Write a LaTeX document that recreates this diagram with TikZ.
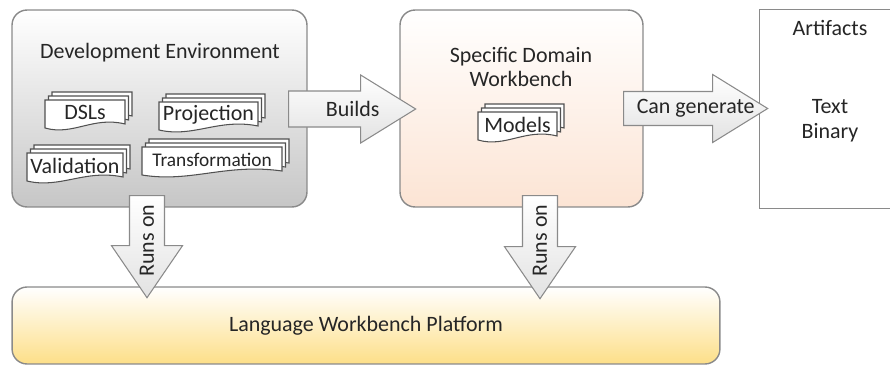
\documentclass[tikz,border=0pt]{standalone}
\usepackage{fontspec}
\setmainfont{Carlito}
\usetikzlibrary{arrows.meta,positioning,calc}

\definecolor{framegray}{HTML}{8A8A8A}
\definecolor{inkgray}{HTML}{262626}
\definecolor{devbottom}{HTML}{C6C6C6}
\definecolor{dombottom}{HTML}{FCE4D4}
\definecolor{platbottom}{HTML}{FDDF88}
\definecolor{arrowfill}{HTML}{E2E2E2}

% stacked document: name, left x, top y, width, text
\newcommand{\docstack}[5]{%
  \foreach \k in {2,1,0}{
    \begin{scope}[shift={(#2+3.5*\k,#3-4*\k)}]
      \draw[docsheet] (0,0) -- (#4,0) -- (#4,24)
        .. controls ({0.6*#4},16) and ({0.35*#4},36) .. (0,28) -- cycle;
    \end{scope}
  }
  \node[doctext] (#1) at ({#2+#4/2},{#3+12.5}) {#5};
}

% block arrow: length, shaft half width, head half width, head length
\tikzset{
  pics/blockarrow/.style n args={4}{code={
    \path[blockarrowpath] (0,-#2) -- ({#1-#4},-#2) -- ({#1-#4},-#3) -- (#1,0)
      -- ({#1-#4},#3) -- ({#1-#4},#2) -- (0,#2) -- cycle;
  }}
}

\begin{document}
\begin{tikzpicture}[
  x=0.02cm,y=-0.02cm,
  font=\fontsize{12.5}{14.2}\selectfont,text=inkgray,
  panel/.style={draw=framegray,line width=0.8pt,rounded corners=0.3cm,align=center},
  docsheet/.style={draw=inkgray!80,line width=0.6pt,fill=white},
  doctext/.style={inner sep=0pt},
  blockarrowpath/.style={draw=framegray,line width=0.6pt,top color=white,
    bottom color=arrowfill,line join=miter},
  arrowtext/.style={inner sep=0pt}
]
  \useasboundingbox (0,0) rectangle (890,365);
  \clip (0,0) rectangle (890,365);

  % boxes
  \node[panel,top color=white,bottom color=devbottom,
        minimum width=5.9cm,minimum height=3.94cm] (devenv) at (159.5,108.5) {};
  \node[panel,top color=white,bottom color=dombottom,
        minimum width=4.86cm,minimum height=3.94cm] (domwb) at (521.5,108.5) {};
  \node[fill=white,minimum width=3.2cm,minimum height=3.96cm] (artifacts) at (840,109) {};
  \draw[framegray,line width=0.8pt] (artifacts.north east) -- (artifacts.north west)
    -- (artifacts.south west) -- (artifacts.south east);
  \node[panel,top color=white,bottom color=platbottom,
        minimum width=14.16cm,minimum height=1.54cm] (platform) at (366,325.5)
        {Language Workbench Platform};

  % titles
  \node (devtitle) at (160,53) {Development Environment};
  \node[align=center] (domtitle) at (521,67) {Specific Domain\\Workbench};
  \node (arttitle) at (830,28) {Artifacts};
  \node[align=center] (artlist) at (830,121) {Text\\Binary};

  % documents
  \docstack{dsls}{45}{100}{80}{DSLs}
  \docstack{projection}{159}{102}{99}{Projection}
  \docstack{validation}{27}{153}{96}{Validation}
  \begingroup\tikzset{doctext/.append style={font=\fontsize{11}{13}\selectfont}}
  \docstack{transformation}{142}{147}{140}{Transformation}
  \endgroup
  \docstack{models}{478}{112}{79}{Models}

  % block arrows between the boxes
  \pic at ($(devenv.east)+(-19,0.5)$) {blockarrow={127}{18}{34}{55}};
  \pic at ($(domwb.east)+(-20,0)$) {blockarrow={144}{17}{34}{55}};
  \pic[rotate=-90] at ($(devenv.south)+(-12.5,-12)$) {blockarrow={102}{17.5}{35.5}{52}};
  \pic[rotate=-90] at ($(domwb.south)+(18.5,-12)$) {blockarrow={103}{17.5}{35.5}{52}};

  \node[arrowtext] (buildslabel) at ($(devenv.east)+(45,0)$) {Builds};
  \node[arrowtext] (generateslabel) at ($(domwb.east)+(52,0)$) {Can generate};
  \node[arrowtext,rotate=90] (runsdevlabel) at ($(devenv.south)+(-12.5,33)$) {Runs on};
  \node[arrowtext,rotate=90] (runsdomlabel) at ($(domwb.south)+(18.5,33)$) {Runs on};
\end{tikzpicture}
\end{document}
